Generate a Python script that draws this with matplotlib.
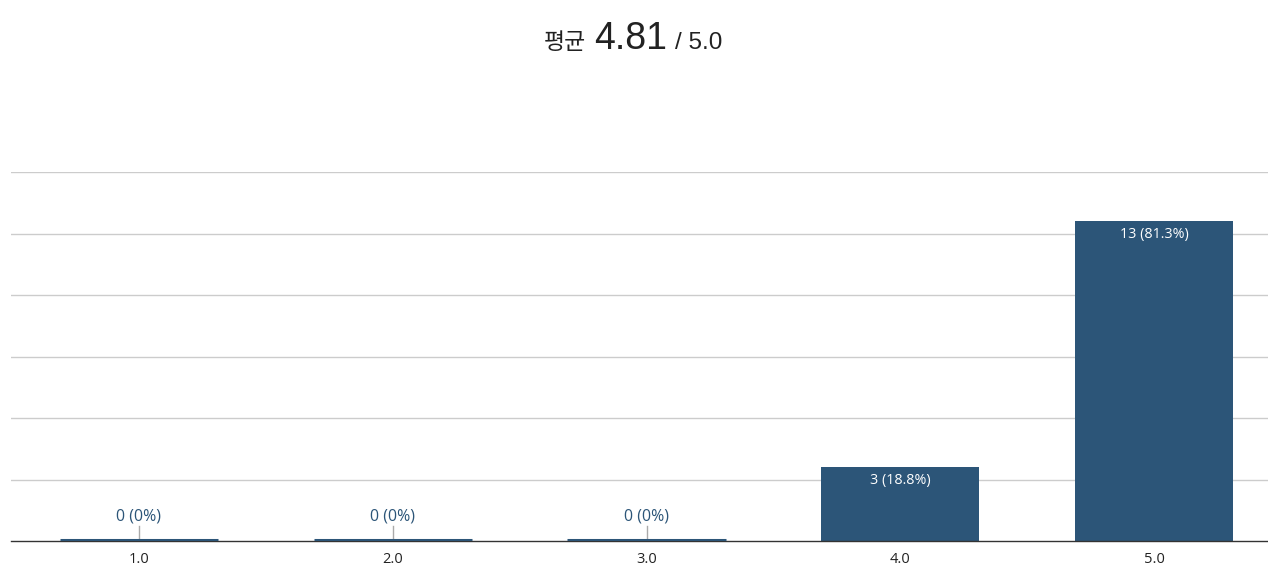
import matplotlib
matplotlib.use("Agg")
import matplotlib.pyplot as plt

categories = ["1.0", "2.0", "3.0", "4.0", "5.0"]
positions = [1, 2, 3, 4, 5]
counts = [0, 0, 0, 3, 13]
percent_labels = ["0%", "0%", "0%", "18.8%", "81.3%"]
average = "4.81"
max_score = "5.0"

BAR = "#2c5578"
W, H = 1268, 582
fig = plt.figure(figsize=(W / 100, H / 100), dpi=100)
ax = fig.add_axes([11 / W, 1 - 541 / H, 1 - 11 / W, (541 - 172) / H])

ax.bar(positions, counts, width=0.623, color=BAR, zorder=3)
ax.set_xlim(0.4956, 5.449)
ax.set_ylim(0, 15)
ax.set_yticks([2.5, 5, 7.5, 10, 12.5, 15])
ax.yaxis.grid(True, color="#cccccc", linewidth=1)
ax.set_axisbelow(True)
ax.tick_params(axis="y", left=False, labelleft=False)
ax.set_xticks(positions)
ax.set_xticklabels(categories, family="Open Sans", fontsize=10.5, color="#222222")
ax.tick_params(axis="x", length=0, pad=8)
for s in ["top", "right", "left"]:
    ax.spines[s].set_visible(False)
ax.spines["bottom"].set_color("#333333")
ax.spines["bottom"].set_linewidth(1)
ax.spines["bottom"].set_zorder(4)

for x, c, p in zip(positions, counts, percent_labels):
    label = f"{c} ({p})"
    if c == 0:
        ax.plot([x - 0.3115, x + 0.3115], [0.04, 0.04], color=BAR, lw=2.2,
                solid_capstyle="butt", zorder=5)
        ax.plot([x, x], [0, 0.62], color="#aaaaaa", lw=1, zorder=4)
        ax.annotate(label, (x, 0.62), xytext=(0, 1), textcoords="offset points",
                    ha="center", va="bottom", fontsize=11.5, family="Open Sans",
                    color=BAR)
    else:
        ax.annotate(label, (x, c), xytext=(0, -4), textcoords="offset points",
                    ha="center", va="top", fontsize=10.3, family="Open Sans",
                    color="white", zorder=6)

# title composed of three parts
fam = ["Liberation Sans", "Noto Sans CJK KR"]
t1 = fig.text(0, 0, "평균", fontsize=16.5, family=["Noto Sans CJK KR"], color="#222222")
t2 = fig.text(0, 0, average, fontsize=27, family=fam, color="#222222")
t3 = fig.text(0, 0, "/ " + max_score, fontsize=17.5, family=fam, color="#222222")
fig.canvas.draw()
r = fig.canvas.get_renderer()
gap = 8
ws = [t.get_window_extent(r).width for t in (t1, t2, t3)]
total = sum(ws) + 2 * gap
x0 = (W - total) / 2 - 1
base_y = 1 - 49 / H
xs = [x0, x0 + ws[0] + gap, x0 + ws[0] + ws[1] + 2 * gap]
for t, xx in zip((t1, t2, t3), xs):
    t.set_position((xx / W, base_y))
    t.set_va("baseline")

fig.savefig("out.png", dpi=100)
